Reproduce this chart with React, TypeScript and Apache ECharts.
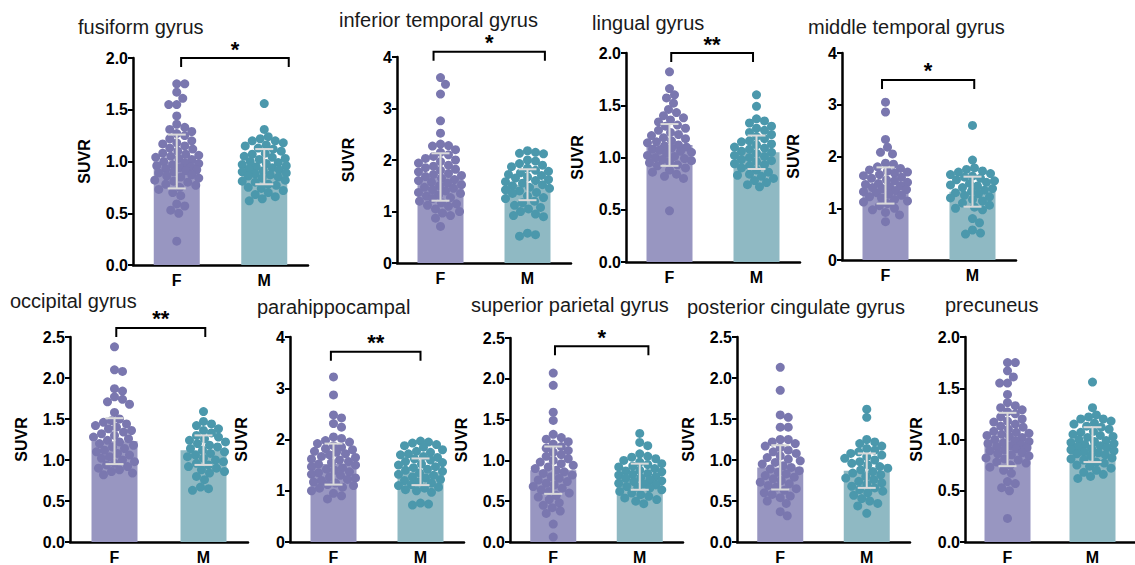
import React, { useEffect, useRef } from "react";
import * as echarts from "echarts";

const categories = ["F", "M"];
const titles = [
  "fusiform gyrus",
  "inferior temporal gyrus",
  "lingual gyrus",
  "middle temporal gyrus",
  "occipital gyrus",
  "parahippocampal",
  "superior parietal gyrus",
  "posterior cingulate gyrus",
  "precuneus",
];

const fusiformF = [1.75, 1.75, 1.67, 1.61, 1.55, 1.55, 1.44, 1.36, 1.33, 1.31, 1.29, 1.27, 1.25, 1.22, 1.2, 1.18, 1.17, 1.15, 1.13, 1.12, 1.1, 1.08, 1.07, 1.06, 1.05, 1.04, 1.03, 1.02, 1.0, 0.99, 0.98, 0.97, 0.96, 0.95, 0.94, 0.93, 0.92, 0.91, 0.9, 0.89, 0.87, 0.86, 0.85, 0.84, 0.82, 0.81, 0.8, 0.78, 0.77, 0.75, 0.73, 0.7, 0.67, 0.59, 0.57, 0.53, 0.5, 0.23];
const fusiformM = [1.56, 1.31, 1.24, 1.22, 1.2, 1.2, 1.18, 1.16, 1.15, 1.13, 1.12, 1.1, 1.08, 1.07, 1.05, 1.04, 1.03, 1.02, 1.0, 0.99, 0.98, 0.97, 0.96, 0.95, 0.94, 0.93, 0.92, 0.91, 0.9, 0.89, 0.88, 0.87, 0.86, 0.85, 0.84, 0.82, 0.81, 0.8, 0.78, 0.77, 0.75, 0.74, 0.72, 0.7, 0.68, 0.66, 0.64, 0.62];
const infTempF = [3.6, 3.47, 3.28, 2.76, 2.52, 2.31, 2.28, 2.27, 2.2, 2.15, 2.1, 2.07, 2.03, 2.0, 1.97, 1.94, 1.9, 1.88, 1.85, 1.82, 1.8, 1.77, 1.74, 1.72, 1.7, 1.68, 1.65, 1.62, 1.6, 1.57, 1.55, 1.52, 1.5, 1.47, 1.45, 1.42, 1.4, 1.37, 1.35, 1.32, 1.3, 1.27, 1.25, 1.2, 1.17, 1.15, 1.12, 1.1, 1.05, 1.0, 0.97, 0.92, 0.87, 0.71];
const infTempM = [2.18, 2.15, 2.13, 2.12, 2.0, 1.98, 1.93, 1.9, 1.87, 1.84, 1.8, 1.78, 1.75, 1.72, 1.7, 1.67, 1.65, 1.62, 1.6, 1.58, 1.55, 1.52, 1.5, 1.47, 1.45, 1.42, 1.4, 1.37, 1.35, 1.3, 1.27, 1.25, 1.2, 1.17, 1.12, 1.08, 1.05, 1.0, 0.95, 0.92, 0.9, 0.58, 0.55, 0.52];
const lingualF = [1.82, 1.66, 1.6, 1.57, 1.52, 1.46, 1.43, 1.4, 1.38, 1.36, 1.34, 1.31, 1.3, 1.28, 1.26, 1.24, 1.22, 1.21, 1.19, 1.18, 1.16, 1.15, 1.14, 1.12, 1.11, 1.1, 1.09, 1.08, 1.07, 1.06, 1.05, 1.04, 1.02, 1.01, 1.0, 0.99, 0.98, 0.97, 0.96, 0.95, 0.93, 0.92, 0.9, 0.88, 0.86, 0.84, 0.82, 0.8, 0.49];
const lingualM = [1.6, 1.49, 1.37, 1.35, 1.33, 1.3, 1.28, 1.26, 1.24, 1.22, 1.2, 1.18, 1.16, 1.15, 1.13, 1.12, 1.1, 1.09, 1.08, 1.06, 1.05, 1.04, 1.02, 1.01, 1.0, 0.98, 0.97, 0.96, 0.94, 0.93, 0.92, 0.9, 0.88, 0.86, 0.84, 0.83, 0.82, 0.8, 0.78, 0.76, 0.74, 0.72];
const midTempF = [3.05, 2.86, 2.33, 2.18, 2.08, 2.05, 1.87, 1.85, 1.8, 1.77, 1.74, 1.72, 1.7, 1.68, 1.65, 1.63, 1.6, 1.58, 1.55, 1.53, 1.5, 1.48, 1.46, 1.44, 1.42, 1.4, 1.38, 1.36, 1.34, 1.32, 1.3, 1.27, 1.25, 1.22, 1.2, 1.17, 1.14, 1.12, 1.09, 1.05, 1.0, 0.97, 0.92, 0.87, 0.74];
const midTempM = [2.6, 1.93, 1.78, 1.75, 1.72, 1.7, 1.67, 1.65, 1.62, 1.6, 1.58, 1.55, 1.53, 1.5, 1.48, 1.45, 1.43, 1.4, 1.38, 1.35, 1.33, 1.3, 1.28, 1.25, 1.22, 1.2, 1.17, 1.14, 1.1, 1.06, 1.02, 1.0, 0.97, 0.8, 0.72, 0.58, 0.52, 0.5];
const occipitalF = [2.38, 2.1, 2.08, 1.87, 1.84, 1.77, 1.74, 1.71, 1.68, 1.58, 1.5, 1.48, 1.46, 1.44, 1.42, 1.4, 1.38, 1.36, 1.34, 1.32, 1.3, 1.28, 1.26, 1.24, 1.22, 1.2, 1.18, 1.16, 1.14, 1.12, 1.1, 1.08, 1.06, 1.04, 1.02, 1.0, 0.98, 0.96, 0.94, 0.92, 0.9, 0.88, 0.86, 0.84, 0.82];
const occipitalM = [1.59, 1.47, 1.44, 1.42, 1.38, 1.36, 1.33, 1.3, 1.28, 1.26, 1.24, 1.22, 1.2, 1.18, 1.16, 1.14, 1.12, 1.1, 1.08, 1.06, 1.04, 1.02, 1.0, 0.98, 0.96, 0.94, 0.92, 0.9, 0.88, 0.86, 0.84, 0.8, 0.76, 0.67, 0.65, 0.63];
const paraF = [3.22, 2.87, 2.48, 2.42, 2.31, 2.24, 2.05, 2.02, 1.98, 1.95, 1.92, 1.88, 1.85, 1.82, 1.8, 1.77, 1.75, 1.72, 1.7, 1.67, 1.65, 1.62, 1.6, 1.57, 1.55, 1.52, 1.5, 1.47, 1.45, 1.42, 1.4, 1.37, 1.35, 1.32, 1.3, 1.27, 1.25, 1.22, 1.2, 1.17, 1.15, 1.12, 1.1, 1.07, 1.05, 1.0, 0.95, 0.9, 0.84];
const paraM = [1.97, 1.95, 1.93, 1.9, 1.88, 1.85, 1.8, 1.77, 1.75, 1.72, 1.7, 1.67, 1.65, 1.62, 1.6, 1.57, 1.55, 1.52, 1.5, 1.47, 1.45, 1.42, 1.4, 1.38, 1.35, 1.32, 1.3, 1.27, 1.25, 1.22, 1.2, 1.17, 1.15, 1.12, 1.1, 1.07, 1.05, 1.02, 1.0, 0.97, 0.76, 0.74, 0.72];
const supParF = [2.07, 1.92, 1.59, 1.49, 1.32, 1.28, 1.26, 1.23, 1.2, 1.17, 1.15, 1.12, 1.1, 1.07, 1.05, 1.02, 1.0, 0.98, 0.96, 0.94, 0.92, 0.9, 0.88, 0.86, 0.84, 0.82, 0.8, 0.78, 0.76, 0.74, 0.72, 0.7, 0.68, 0.66, 0.64, 0.62, 0.6, 0.57, 0.55, 0.52, 0.48, 0.45, 0.42, 0.38, 0.35, 0.22, 0.06];
const supParM = [1.33, 1.22, 1.18, 1.08, 1.05, 1.04, 1.02, 1.0, 0.98, 0.96, 0.95, 0.93, 0.92, 0.9, 0.88, 0.87, 0.86, 0.84, 0.83, 0.82, 0.8, 0.79, 0.78, 0.76, 0.75, 0.74, 0.72, 0.71, 0.7, 0.68, 0.67, 0.66, 0.64, 0.62, 0.6, 0.58, 0.56, 0.54, 0.52, 0.5, 0.47];
const postCingF = [2.13, 1.85, 1.55, 1.52, 1.4, 1.4, 1.25, 1.25, 1.22, 1.2, 1.17, 1.15, 1.12, 1.1, 1.08, 1.05, 1.03, 1.01, 0.99, 0.97, 0.95, 0.93, 0.91, 0.89, 0.87, 0.85, 0.83, 0.81, 0.79, 0.77, 0.75, 0.73, 0.71, 0.69, 0.67, 0.65, 0.63, 0.6, 0.58, 0.56, 0.54, 0.5, 0.47, 0.37, 0.32];
const postCingM = [1.62, 1.52, 1.25, 1.22, 1.2, 1.17, 1.14, 1.12, 1.1, 1.08, 1.06, 1.04, 1.02, 1.0, 0.98, 0.96, 0.94, 0.92, 0.9, 0.88, 0.86, 0.84, 0.82, 0.8, 0.78, 0.76, 0.74, 0.72, 0.7, 0.68, 0.66, 0.64, 0.62, 0.6, 0.57, 0.53, 0.5, 0.47, 0.44, 0.35];
const precuneusF = [1.75, 1.75, 1.67, 1.61, 1.55, 1.55, 1.44, 1.36, 1.33, 1.31, 1.29, 1.27, 1.25, 1.22, 1.2, 1.18, 1.17, 1.15, 1.13, 1.12, 1.1, 1.08, 1.07, 1.06, 1.05, 1.04, 1.03, 1.02, 1.0, 0.99, 0.98, 0.97, 0.96, 0.95, 0.94, 0.93, 0.92, 0.91, 0.9, 0.89, 0.87, 0.86, 0.85, 0.84, 0.82, 0.81, 0.8, 0.78, 0.77, 0.75, 0.73, 0.7, 0.67, 0.59, 0.57, 0.53, 0.5, 0.23];
const precuneusM = [1.56, 1.31, 1.24, 1.22, 1.2, 1.2, 1.18, 1.16, 1.15, 1.13, 1.12, 1.1, 1.08, 1.07, 1.05, 1.04, 1.03, 1.02, 1.0, 0.99, 0.98, 0.97, 0.96, 0.95, 0.94, 0.93, 0.92, 0.91, 0.9, 0.89, 0.88, 0.87, 0.86, 0.85, 0.84, 0.82, 0.81, 0.8, 0.78, 0.77, 0.75, 0.74, 0.72, 0.7, 0.68, 0.66, 0.64, 0.62];

const pointsF = [fusiformF, infTempF, lingualF, midTempF, occipitalF, paraF, supParF, postCingF, precuneusF];
const pointsM = [fusiformM, infTempM, lingualM, midTempM, occipitalM, paraM, supParM, postCingM, precuneusM];

const meanF = [1.0, 1.67, 1.12, 1.44, 1.23, 1.52, 0.88, 0.91, 1.0];
const sdF = [0.26, 0.46, 0.2, 0.35, 0.28, 0.4, 0.29, 0.27, 0.26];
const meanM = [0.95, 1.52, 1.05, 1.32, 1.12, 1.37, 0.8, 0.87, 0.95];
const sdM = [0.17, 0.3, 0.16, 0.29, 0.18, 0.26, 0.16, 0.21, 0.17];

const yMax = [2, 4, 2, 4, 2.5, 4, 2.5, 2.5, 2];
const yInterval = [0.5, 1, 0.5, 1, 0.5, 1, 0.5, 0.5, 0.5];

const sigLabel = ["*", "*", "**", "*", "**", "**", "*", "", ""];
const sigY = [2.0, 4.1, 2.0, 3.48, 2.61, 3.71, 2.4, 0, 0];
const sigStart = [0.05, -0.08, 0.02, -0.04, 0.02, -0.03, 0.02, 0, 0];
const sigEnd = [1.28, 1.2, 0.96, 1.02, 1.02, 1.0, 1.1, 0, 0];

// layout (px)
const gridBox = [
  { left: 133, top: 58, width: 175, height: 207 },
  { left: 397, top: 57, width: 174, height: 206 },
  { left: 626, top: 53, width: 174, height: 209 },
  { left: 842, top: 53, width: 174, height: 207 },
  { left: 70, top: 337, width: 178, height: 206 },
  { left: 290, top: 337, width: 174, height: 206 },
  { left: 510, top: 338, width: 173, height: 207 },
  { left: 737, top: 337, width: 173, height: 206 },
  { left: 965, top: 337, width: 174, height: 206 },
];
const titlePos = [
  { left: 78, top: 17 },
  { left: 339, top: 10 },
  { left: 592, top: 13 },
  { left: 808, top: 17 },
  { left: 10, top: 291 },
  { left: 257, top: 297 },
  { left: 471, top: 295 },
  { left: 687, top: 297 },
  { left: 945, top: 295 },
];

const COL_F_BAR = "#9896C1";
const COL_F_PT = "#7A77AF";
const COL_M_BAR = "#8FB9C3";
const COL_M_PT = "#4B98AC";
const COL_ERR = "#DADADA";
const FONT = "'Liberation Sans', Arial, Helvetica, sans-serif";

function swarm(values: number[], center: number, pxY: number, pxX: number) {
  const dot = 8;
  const maxHalf = 22;
  const items = values.map((v) => ({ v, py: v * pxY, dx: 0 }));
  const order = items.slice().sort((a, b) => b.v - a.v);
  const placed: { py: number; dx: number }[] = [];
  for (const it of order) {
    let best = 0;
    let bestScore = -1;
    for (let k = 0; k <= maxHalf * 2; k++) {
      const off = k === 0 ? 0 : (k % 2 === 1 ? 1 : -1) * Math.ceil(k / 2);
      if (Math.abs(off) > maxHalf) break;
      let minD = Infinity;
      for (const p of placed) {
        const dy = p.py - it.py;
        if (Math.abs(dy) >= dot) continue;
        const d = Math.hypot(p.dx - off, dy);
        if (d < minD) minD = d;
      }
      if (minD >= dot) {
        best = off;
        bestScore = Infinity;
        break;
      }
      if (minD > bestScore) {
        bestScore = minD;
        best = off;
      }
    }
    it.dx = best;
    placed.push({ py: it.py, dx: it.dx });
  }
  return items.map((it) => [center + it.dx / pxX, it.v]);
}

function buildOption() {
  const grid: any[] = [];
  const xAxis: any[] = [];
  const yAxis: any[] = [];
  const series: any[] = [];
  const title: any[] = [];

  for (let i = 0; i < titles.length; i++) {
    const g = gridBox[i];
    grid.push({ ...g, containLabel: false });
    title.push({
      text: titles[i],
      left: titlePos[i].left,
      top: titlePos[i].top,
      padding: 0,
      textStyle: { fontSize: 20, fontWeight: "normal", color: "#1a1a1a", fontFamily: FONT, lineHeight: 20 },
    });
    xAxis.push({
      type: "category",
      gridIndex: i,
      data: categories,
      axisLine: { onZero: false, lineStyle: { color: "#000", width: 2.5 } },
      axisTick: { alignWithLabel: true, length: 5, lineStyle: { color: "#000", width: 2 } },
      axisLabel: { color: "#000", fontWeight: "bold", fontSize: 16, fontFamily: FONT, margin: 7 },
    });
    xAxis.push({ type: "value", gridIndex: i, min: -0.5, max: 1.5, show: false });
    const iv = yInterval[i];
    yAxis.push({
      type: "value",
      gridIndex: i,
      min: 0,
      max: yMax[i],
      interval: iv,
      name: "SUVR",
      nameLocation: "middle",
      nameGap: 41,
      nameTextStyle: { color: "#000", fontWeight: "bold", fontSize: 16, fontFamily: FONT },
      axisLine: { show: true, onZero: false, lineStyle: { color: "#000", width: 2.5 } },
      axisTick: { show: true, length: 5, lineStyle: { color: "#000", width: 2 } },
      splitLine: { show: false },
      axisLabel: {
        color: "#000",
        fontWeight: "bold",
        fontSize: 16,
        fontFamily: FONT,
        margin: 5,
        formatter: (v: number) => (iv < 1 ? v.toFixed(1) : String(Math.round(v))),
      },
    });
    const xCat = i * 2;
    const xVal = i * 2 + 1;
    series.push({
      type: "bar",
      xAxisIndex: xCat,
      yAxisIndex: i,
      barWidth: 46,
      z: 1,
      data: [
        { value: meanF[i], itemStyle: { color: COL_F_BAR } },
        { value: meanM[i], itemStyle: { color: COL_M_BAR } },
      ],
    });
    const pxY = g.height / yMax[i];
    const pxX = g.width / 2;
    series.push({
      type: "scatter",
      xAxisIndex: xVal,
      yAxisIndex: i,
      symbolSize: 9,
      z: 2,
      itemStyle: { color: COL_F_PT, opacity: 1 },
      data: swarm(pointsF[i], 0, pxY, pxX),
    });
    series.push({
      type: "scatter",
      xAxisIndex: xVal,
      yAxisIndex: i,
      symbolSize: 9,
      z: 2,
      itemStyle: { color: COL_M_PT, opacity: 1 },
      data: swarm(pointsM[i], 1, pxY, pxX),
    });
    series.push({
      type: "custom",
      xAxisIndex: xCat,
      yAxisIndex: i,
      z: 3,
      encode: { x: 0, y: [1] },
      data: [
        [0, meanF[i], sdF[i]],
        [1, meanM[i], sdM[i]],
      ],
      renderItem: (params: any, api: any) => {
        const c = api.value(0);
        const m = api.value(1);
        const s = api.value(2);
        const top = api.coord([c, m + s]);
        const bot = api.coord([c, m - s]);
        const cap = 9;
        const st = { stroke: COL_ERR, lineWidth: 2 };
        return {
          type: "group",
          children: [
            { type: "line", shape: { x1: top[0], y1: top[1], x2: bot[0], y2: bot[1] }, style: st },
            { type: "line", shape: { x1: top[0] - cap, y1: top[1], x2: top[0] + cap, y2: top[1] }, style: st },
            { type: "line", shape: { x1: bot[0] - cap, y1: bot[1], x2: bot[0] + cap, y2: bot[1] }, style: st },
          ],
        };
      },
    });
    if (sigLabel[i]) {
      const label = sigLabel[i];
      series.push({
        type: "custom",
        xAxisIndex: xVal,
        yAxisIndex: i,
        z: 4,
        clip: false,
        encode: { x: [0, 1], y: [2] },
        data: [[sigStart[i], sigEnd[i], sigY[i]]],
        renderItem: (params: any, api: any) => {
          const p1 = api.coord([api.value(0), api.value(2)]);
          const p2 = api.coord([api.value(1), api.value(2)]);
          const tick = 9;
          return {
            type: "group",
            children: [
              {
                type: "polyline",
                shape: {
                  points: [
                    [p1[0], p1[1] + tick],
                    [p1[0], p1[1]],
                    [p2[0], p2[1]],
                    [p2[0], p2[1] + tick],
                  ],
                },
                style: { stroke: "#000", lineWidth: 2, fill: null },
              },
              {
                type: "text",
                style: {
                  text: label,
                  x: (p1[0] + p2[0]) / 2,
                  y: p1[1] - 9,
                  align: "center",
                  verticalAlign: "middle",
                  lineHeight: 12,
                  fontSize: 22,
                  fontWeight: "bold",
                  fontFamily: FONT,
                  fill: "#000",
                },
              },
            ],
          };
        },
      });
    }
  }

  return {
    animation: false,
    backgroundColor: "#fff",
    title,
    grid,
    xAxis,
    yAxis,
    series,
  };
}

export default function App() {
  const ref = useRef<HTMLDivElement>(null);
  useEffect(() => {
    if (!ref.current) return;
    const chart = echarts.init(ref.current, undefined, { renderer: "svg" });
    chart.setOption(buildOption() as any);
    return () => chart.dispose();
  }, []);
  return (
    <div
      ref={ref}
      style={{ position: "absolute", left: 0, top: 0, width: 1135, height: 565 }}
    />
  );
}
